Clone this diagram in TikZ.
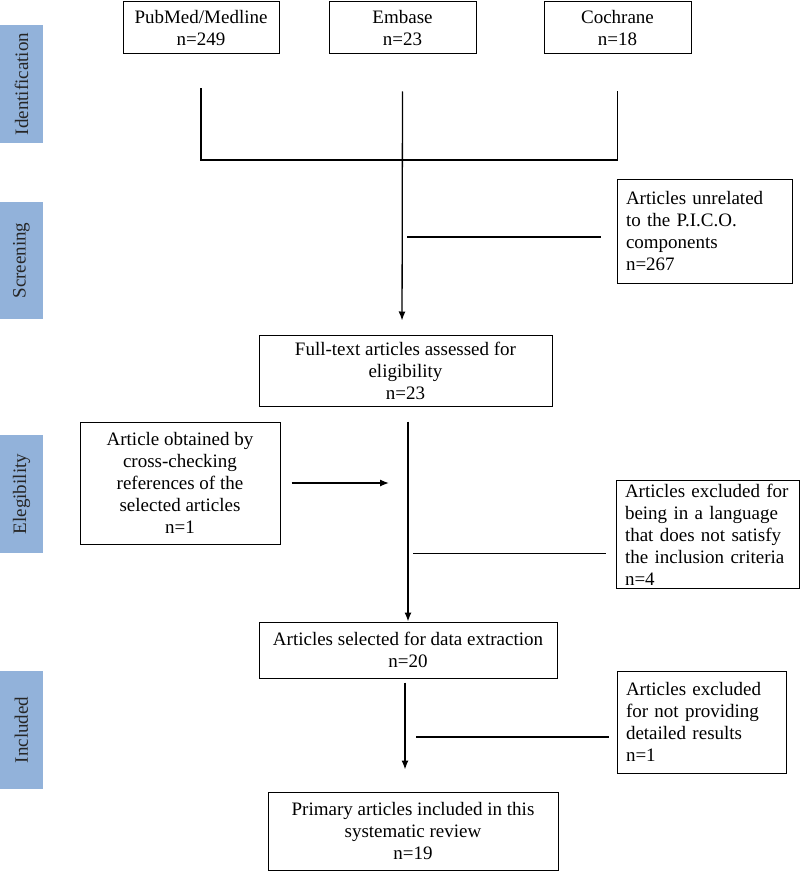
\documentclass[tikz,border=0pt]{standalone}
\usepackage{fontspec}
\setmainfont{Liberation Serif}
\usetikzlibrary{arrows.meta,positioning,calc}
\definecolor{phasefill}{RGB}{146,178,218}

\begin{document}
\begin{tikzpicture}[x=1pt, y=-1pt, font=\fontsize{19}{22}\selectfont,
  box/.style={draw, line width=1pt, align=center, inner sep=3pt},
  lbox/.style={draw, line width=1pt, align=left, inner xsep=9pt, inner ysep=3pt},
  phase/.style={fill=phasefill, rotate=90, text=black!85, minimum height=43pt, inner sep=0pt},
  ln/.style={line width=1.3pt},
  arr/.style={-{Latex[length=9pt, width=7pt]}, line width=1.3pt}]
\useasboundingbox (0,0) rectangle (800,872);
% phases on the left
\node[phase, minimum width=118pt] (ident) at (21.5,84) {Identification};
\node[phase, minimum width=117pt] (screen) at (21.5,260.5) {Screening};
\node[phase, minimum width=118pt] (elig) at (21.5,494) {Elegibility};
\node[phase, minimum width=118pt] (incl) at (21.5,730) {Included};
% sources
\node[box, minimum width=156pt, minimum height=52pt] (pub) at (201,28) {PubMed/Medline\\n=249};
\node[box, minimum width=147pt, minimum height=52pt] (emb) at (402.5,28) {Embase\\n=23};
\node[box, minimum width=147pt, minimum height=52pt] (coch) at (617.5,28) {Cochrane\\n=18};
% main flow
\node[box, minimum width=293pt, minimum height=71pt] (full) at (405.5,370.5) {Full-text articles assessed for\\eligibility\\n=23};
\node[box, minimum width=298pt, minimum height=56pt] (sel) at (408,650) {Articles selected for data extraction\\n=20};
\node[box, minimum width=290pt, minimum height=78pt] (prim) at (413,831) {Primary articles included in this\\systematic review\\n=19};
\node[box, minimum width=200pt, minimum height=122pt] (obt) at (180,483) {Article obtained by\\cross-checking\\references of the\\selected articles\\n=1};
% exclusions
\node[lbox, text width=157pt, minimum height=104pt] (unrel) at (704.5,231) {Articles unrelated\\to the P.I.C.O.\\components\\n=267};
\node[lbox, text width=165pt, minimum height=107pt] (lang) at (707.5,534.5) {Articles excluded for\\being in a language\\that does not satisfy\\the inclusion criteria\\n=4};
\node[lbox, text width=151pt, minimum height=102pt] (notp) at (701.5,722) {Articles excluded\\for not providing\\detailed results\\n=1};
% connectors
\coordinate (hub) at (402,160);
\coordinate (spine) at (408,0);
\draw[ln] ($(pub.south)+(0,34)$) |- (hub) -| ($(coch.south)+(0,37)$);
\draw[arr, shorten >=14pt] ($(emb.south)+(0,37)$) -- (hub |- full.north);
\draw[ln] ($(hub |- unrel.west)+(5,6)$) -- ($(unrel.west)+(-16,6)$);
\draw[arr, shorten <=15pt] (full.south -| spine) -- (sel.north -| spine);
\draw[arr, shorten <=11pt, shorten >=19pt] (obt.east) -- (obt.east -| spine);
\draw[ln] ($(lang.west -| spine)+(5,19)$) -- ($(lang.west)+(-10,19)$);
\draw[arr, shorten <=4pt, shorten >=22pt] ($(sel.south)+(-3,0)$) -- ($(prim.north -| sel.south)+(-3,0)$);
\draw[ln] ($(notp.west -| sel.south)+(8,15)$) -- ($(notp.west)+(-8,15)$);
\end{tikzpicture}
\end{document}
